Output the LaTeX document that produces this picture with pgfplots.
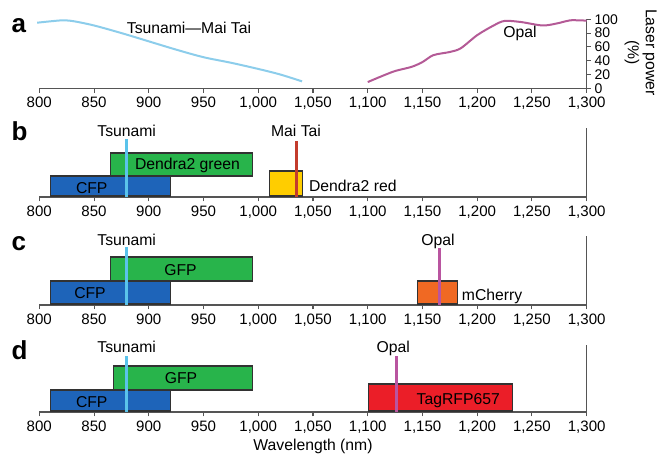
\documentclass[border=0pt]{standalone}
\usepackage{pgfplots}
\pgfplotsset{compat=1.18}
\usepackage{fontspec}
\setmainfont{Liberation Sans}
\definecolor{cfp}{RGB}{30,100,185}
\definecolor{gfp}{RGB}{40,180,75}
\definecolor{dred}{RGB}{255,205,0}
\definecolor{mch}{RGB}{240,105,35}
\definecolor{tag}{RGB}{235,30,40}
\definecolor{tsu}{RGB}{90,195,235}
\definecolor{mai}{RGB}{195,60,45}
\definecolor{opal}{RGB}{185,85,160}
\definecolor{tsucurve}{RGB}{140,205,235}
\definecolor{opalcurve}{RGB}{180,90,150}
\definecolor{axisgray}{RGB}{85,85,85}
\definecolor{edge}{RGB}{50,50,50}
\tikzset{
 lbl/.style={font=\fontsize{11.8}{13.5}\selectfont, inner sep=0pt},
 bar/.style={draw=edge, line width=0.8pt},
 plet/.style={font=\fontsize{19.5}{19.5}\bfseries\selectfont, anchor=base west, inner sep=0pt},
}
\pgfplotsset{
 panel/.style={scale only axis, width=410.55pt, xmin=800, xmax=1300, ymin=0,
  axis x line*=bottom, axis y line*=right,
  xtick={800,850,...,1300}, xtick align=outside, major tick length=3.2pt,
  axis line style={axisgray, line width=0.8pt}, tick style={axisgray, line width=0.8pt},
  xticklabel style={font=\fontsize{11.3}{12}\selectfont},
  /pgf/number format/assume math mode=true, /pgf/number format/1000 sep={,},
  clip=false, anchor=south west},
}
\begin{document}
\begin{tikzpicture}
\useasboundingbox (0,0) rectangle (492.75pt,-345pt);
% panel a
\begin{axis}[panel, at={(29.475pt,-66.2pt)}, height=51.75pt, ymax=100,
  ytick={0,20,...,100}, ytick align=outside, yticklabel pos=right,
  yticklabel style={font=\fontsize{10.5}{10.5}\selectfont, anchor=west, inner sep=0pt, xshift=2.5pt}]
\addplot[tsucurve, line width=1.5pt, smooth] coordinates {
(798,95) (810,97) (822,98.5) (832,97) (850,91) (875,80) (900,68) (925,56) (950,45) (975,37) (1000,28) (1020,20) (1040,10)};
\addplot[opalcurve, line width=1.5pt, smooth] coordinates {
(1100,9) (1112,17) (1125,25) (1140,31) (1150,38) (1160,48) (1175,52.6) (1185,58) (1200,77) (1215,91) (1225,97.6) (1240,96) (1260,91) (1275,94.7) (1285,98.5) (1300,98)};
\node[lbl, anchor=base] at (axis cs:936.7,79.7) {Tsunami—Mai Tai};
\node[lbl, anchor=base] at (axis cs:1239,73.3) {Opal};
\node[lbl, rotate=-90, align=center, anchor=center] at ([xshift=40.5pt,yshift=1pt]rel axis cs:1,0.5) {Laser power\\(\%)};
\end{axis}
% panel b
\begin{axis}[panel, at={(29.475pt,-147.75pt)}, height=51.75pt, ymax=69, ytick=\empty]
\addplot[bar, fill=cfp] coordinates {(810,1) (920,1) (920,21) (810,21)} -- cycle;
\addplot[bar, fill=gfp] coordinates {(865,21) (995,21) (995,44) (865,44)} -- cycle;
\addplot[bar, fill=dred] coordinates {(1010,1) (1040,1) (1040,26) (1010,26)} -- cycle;
\addplot[tsu, line width=2.2pt] coordinates {(880,0) (880,58)};
\addplot[mai, line width=1.8pt] coordinates {(1035,0) (1035,56)};
\node[lbl, anchor=base] at (axis cs:879.8,61) {Tsunami};
\node[lbl, anchor=base] at (axis cs:1034.5,61) {Mai Tai};
\node[lbl, anchor=base] at (axis cs:935.4,27.7) {Dendra2 green};
\node[lbl, anchor=base] at (axis cs:847.9,3.7) {CFP};
\node[lbl, anchor=base west] at (axis cs:1046.2,5.3) {Dendra2 red};
\end{axis}
% panel c
\begin{axis}[panel, at={(29.475pt,-228.75pt)}, height=51.75pt, ymax=69, ytick=\empty]
\addplot[bar, fill=cfp] coordinates {(810,1) (920,1) (920,24) (810,24)} -- cycle;
\addplot[bar, fill=gfp] coordinates {(865,24) (995,24) (995,48) (865,48)} -- cycle;
\addplot[bar, fill=mch] coordinates {(1145.5,1) (1181.8,1) (1181.8,24) (1145.5,24)} -- cycle;
\addplot[tsu, line width=2.2pt] coordinates {(880,0) (880,58)};
\addplot[opal, line width=2pt] coordinates {(1165.6,0) (1165.6,57)};
\node[lbl, anchor=base] at (axis cs:879.8,60) {Tsunami};
\node[lbl, anchor=base] at (axis cs:929,30) {GFP};
\node[lbl, anchor=base] at (axis cs:846.3,6.7) {CFP};
\node[lbl, anchor=base] at (axis cs:1164.2,60) {Opal};
\node[lbl, anchor=base west] at (axis cs:1185.8,5) {mCherry};
\end{axis}
% panel d
\begin{axis}[panel, at={(29.475pt,-309pt)}, height=50.25pt, ymax=67, ytick=\empty]
\addplot[bar, fill=cfp] coordinates {(810,1) (920,1) (920,22) (810,22)} -- cycle;
\addplot[bar, fill=gfp] coordinates {(868,22) (995,22) (995,46) (868,46)} -- cycle;
\addplot[bar, fill=tag] coordinates {(1101,1) (1232,1) (1232,28) (1101,28)} -- cycle;
\addplot[tsu, line width=2.2pt] coordinates {(880,0) (880,56)};
\addplot[opal, line width=2pt] coordinates {(1126,0) (1126,56)};
\node[lbl, anchor=base] at (axis cs:879.8,59.3) {Tsunami};
\node[lbl, anchor=base] at (axis cs:929.4,28.7) {GFP};
\node[lbl, anchor=base] at (axis cs:847.9,4.7) {CFP};
\node[lbl, anchor=base] at (axis cs:1123.4,59.3) {Opal};
\node[lbl, anchor=base] at (axis cs:1182.7,8) {TagRFP657};
\end{axis}
% panel letters and x label
\node[plet] at (8.5pt,-24.75pt) {a};
\node[plet] at (8.5pt,-105pt) {b};
\node[plet] at (8.5pt,-188pt) {c};
\node[plet] at (8.5pt,-269.25pt) {d};
\node[lbl, anchor=base] at (234.75pt,-337.5pt) {Wavelength (nm)};
\end{tikzpicture}
\end{document}
